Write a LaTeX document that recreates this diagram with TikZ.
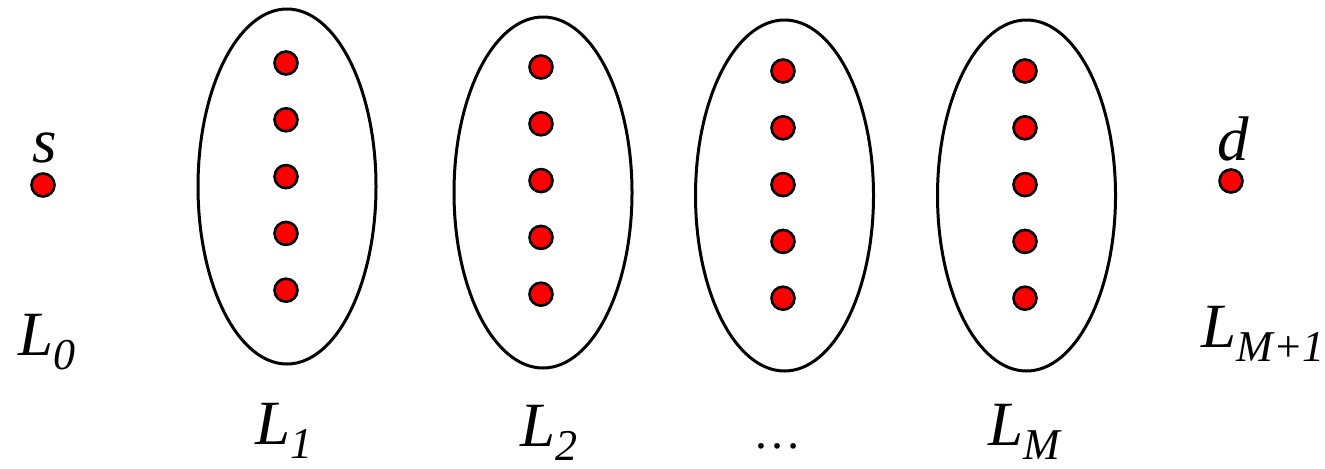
\documentclass[tikz,border=0pt]{standalone}
\usepackage{fontspec}
\setmainfont{Liberation Serif}[ItalicFont={Liberation Serif Italic}]
\usetikzlibrary{shapes.geometric}
\tikzset{
  layerset/.style={draw, ellipse, line width=1.5pt, minimum width=89pt, minimum height=175.5pt, inner sep=0pt},
  vertex/.style={draw, circle, fill=red, line width=1.3pt, minimum size=11.5pt, inner sep=0pt},
  lbl/.style={inner sep=0pt, font=\fontsize{31.5}{31.5}\selectfont\itshape}
}
\newcommand\sublbl[1]{\raisebox{-7pt}{\fontsize{22}{22}\selectfont #1}}
\begin{document}
\begin{tikzpicture}[x=0.5pt,y=0.5pt]
\useasboundingbox (0,0) rectangle (1325,468);
% source and destination
\node[vertex] (s) at (43,283) {};
\node[vertex] (d) at (1231,287) {};
\node[lbl, anchor=base] (slbl) at (45,306) {s};
\node[lbl, anchor=base] (dlbl) at (1233,308) {d};
% layers
\node[layerset, minimum height=177.5pt] (E1) at (287,281.5) {};
\node[layerset] (E2) at (543,275.5) {};
\node[layerset] (E3) at (784.5,272.5) {};
\node[layerset] (E4) at (1026.5,272.5) {};
\foreach \k/\cx/\top in {1/286/405, 2/541/401, 3/783/397, 4/1025/397} {
  \foreach \j in {0,...,4}
    \node[vertex] (v\k\j) at (\cx,\top-56.8*\j) {};
}
% labels
\node[lbl, anchor=base west] (L0) at (18,113) {L\sublbl{0}};
\node[lbl, anchor=base west] (L1) at (255,24) {L\sublbl{1}};
\node[lbl, anchor=base west] (L2) at (520,22) {L\sublbl{2}};
\node[lbl, anchor=base, font=\fontsize{24}{24}\selectfont] (Ldots) at (777,20) {…};
\node[lbl, anchor=base west] (LM) at (988,23) {L\sublbl{M}};
\node[lbl, anchor=base west] (LM1) at (1201,121) {L\sublbl{M+1}};
\end{tikzpicture}
\end{document}
